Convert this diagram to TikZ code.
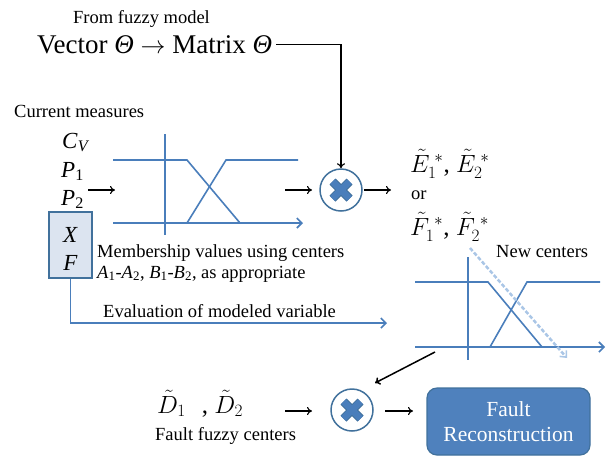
\documentclass[tikz,border=0pt]{standalone}
\usepackage{fontspec}
\setmainfont{Liberation Serif}
\usetikzlibrary{arrows.meta}
\definecolor{mfblue}{RGB}{74,126,187}
\definecolor{darkblue}{RGB}{65,113,156}
\definecolor{boxfill}{RGB}{220,228,240}
\definecolor{faultfill}{RGB}{79,129,189}
\definecolor{dashblue}{RGB}{170,198,230}
\tikzset{
  txt/.style={inner sep=0pt, anchor=base west},
  bigtxt/.style={txt, font=\fontsize{23}{26}\selectfont},
  mathtxt/.style={txt, font=\fontsize{25}{28}\selectfont},
  arr/.style={draw=black, line width=1.1pt, -{To[length=5pt,width=8pt]}},
  mf/.style={draw=mfblue, line width=1.6pt},
  mfarr/.style={mf, -{Straight Barb[length=5pt,width=10pt,line width=1.6pt]}},
  mult/.style={circle, draw=darkblue, line width=1.5pt, fill=white, minimum size=42pt, inner sep=0pt,
    path picture={
      \draw[darkblue, line width=8.5pt] ([shift={(-8.5pt,-8.5pt)}]path picture bounding box.center) -- ([shift={(8.5pt,8.5pt)}]path picture bounding box.center);
      \draw[darkblue, line width=8.5pt] ([shift={(-8.5pt,8.5pt)}]path picture bounding box.center) -- ([shift={(8.5pt,-8.5pt)}]path picture bounding box.center);
      \draw[mfblue, line width=6.5pt] ([shift={(-8.5pt,-8.5pt)}]path picture bounding box.center) -- ([shift={(8.5pt,8.5pt)}]path picture bounding box.center);
      \draw[mfblue, line width=6.5pt] ([shift={(-8.5pt,8.5pt)}]path picture bounding box.center) -- ([shift={(8.5pt,-8.5pt)}]path picture bounding box.center);
    }},
  xfbox/.style={draw=darkblue, fill=boxfill, line width=1.5pt, minimum width=43pt, minimum height=66pt, inner sep=0pt},
  faultbox/.style={draw=darkblue, fill=faultfill, line width=1.2pt, rounded corners=10pt, minimum width=163pt, minimum height=67pt,
    text=white, align=center, font=\fontsize{21.5}{25}\selectfont}
}
\begin{document}
\begin{tikzpicture}[x=1pt, y=-1pt, font=\fontsize{18.5}{21}\selectfont]
\useasboundingbox (0,0) rectangle (607,456);

% top
\node[txt] (fuzzy) at (73,23) {From fuzzy model};
\node[txt, font=\fontsize{27}{30}\selectfont] (vec) at (37,53) {Vector \textit{Θ} $\rightarrow$ Matrix \textit{Θ}};

% left inputs
\node[txt] (cur) at (14,117) {Current measures};
\node[bigtxt] (cv) at (62,148) {\textit{C}\textsubscript{\textit{V}}};
\node[bigtxt] (p1) at (61,177) {\textit{P}\textsubscript{1}};
\node[bigtxt] (p2) at (61,205) {\textit{P}\textsubscript{2}};
\node[xfbox] (xf) at (70.5,245) {};
\node[bigtxt, anchor=base] (xl) at (70.5,242) {\textit{X}};
\node[bigtxt, anchor=base] (fl) at (70.5,270) {\textit{F}};

% membership function 1
\draw[mf] (113,160) -- (187,160) -- (240,223);
\draw[mf] (187,223) -- (226,160) -- (298,160);
\draw[mf] (165,134) -- (165,235);
\draw[mfarr] (113,223) -- (303,223);

\coordinate (in1a) at (88,190);
\coordinate (in1b) at (115,190);
\draw[arr] (in1a) -- (in1b);

\node[txt] (memb1) at (97,257) {Membership values using centers};
\node[txt] (memb2) at (97,278) {\textit{A}\textsubscript{1}-\textit{A}\textsubscript{2}, \textit{B}\textsubscript{1}-\textit{B}\textsubscript{2}, as appropriate};

% multiplier 1
\node[mult] (mul1) at (341,190) {};
\coordinate (o1a) at (285,190);
\coordinate (o1e) at (312,190);
\draw[arr] (o1a) -- (o1e);
\draw[arr, shorten <=4pt] (vec.east) -| (mul1.north);
\coordinate (o1b) at (391,190);
\draw[arr, shorten <=1pt] (mul1.east) -- (o1b);

\node[mathtxt] (E) at (410,172) {$\tilde{E}_1^{\;*}$, $\tilde{E}_2^{\;*}$};
\node[txt] (or) at (411,199) {or};
\node[mathtxt] (F) at (410,235) {$\tilde{F}_1^{\;*}$, $\tilde{F}_2^{\;*}$};

% evaluation connector
\coordinate (evalend) at (387,323);
\draw[mfarr] (xf.south) |- (evalend);
\node[txt] (eval) at (103,317) {Evaluation of modeled variable};

% membership function 2
\draw[mf] (415,282) -- (488,282) -- (542,347);
\draw[mf] (490,347) -- (527,282) -- (600,282);
\draw[mf] (468,257) -- (468,360);
\draw[mfarr] (415,347) -- (605,347);
\coordinate (dsA) at (470,248);
\coordinate (dsB) at (567,358);
\draw[draw=dashblue, line width=2.5pt, dash pattern=on 4pt off 2pt, -{Straight Barb[length=5pt,width=9pt,line width=1.5pt]}] (dsA) -- (dsB);
\node[txt] (newc) at (496,257) {New centers};

% bottom row
\node[mult] (mul2) at (352,410) {};
\coordinate (diagA) at (435,352);
\coordinate (diagB) at (375,383);
\draw[arr, line width=1.5pt] (diagA) -- (diagB);
\node[mathtxt] (D) at (157,413) {$\tilde{D}_1$\hspace{16pt}, $\tilde{D}_2$};
\node[txt] (ffc) at (155,440) {Fault fuzzy centers};
\coordinate (d1a) at (285,411);
\coordinate (d1b) at (312,411);
\draw[arr] (d1a) -- (d1b);
\node[faultbox] (fault) at (508.5,421.5) {Fault\\Reconstruction};
\coordinate (d2a) at (385,411);
\coordinate (d2b) at (413,411);
\draw[arr] (d2a) -- (d2b);
\end{tikzpicture}
\end{document}
